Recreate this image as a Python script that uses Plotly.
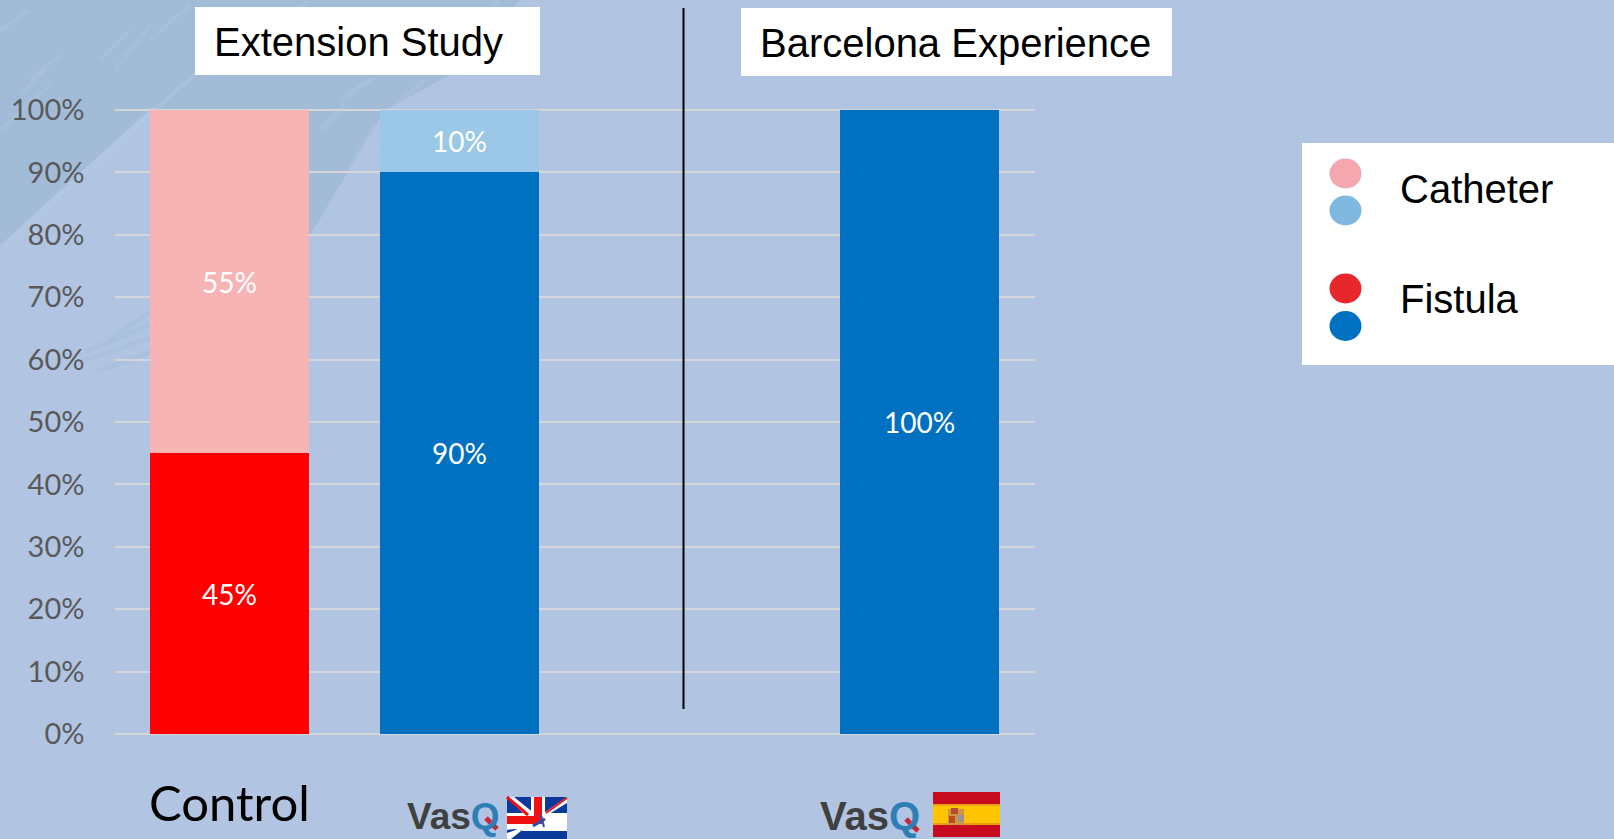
import plotly.graph_objects as go

W, H = 1614, 839
categories = ["Control", "VasQ UK", "gap", "VasQ Spain"]
fistula = [45, 90, None, 100]
catheter = [55, 10, None, None]
fistula_colors = ["#FF0000", "#0070C0", "#0070C0", "#0070C0"]
catheter_colors = ["#F7B4B5", "#9AC8E6", "#9AC8E6", "#9AC8E6"]
y_ticks = list(range(0, 101, 10))
y_labels = [f"{v}%" for v in y_ticks]

BG = "#B1C5E2"
TEX = "#A2BCD8"
STREAK = "#B2CAE2"
GRID = "#D4D6DA"

def px(x): return x / W
def py(y): return 1 - y / H

def rect(x0, y0, x1, y1, color, layer="below"):
    return dict(type="rect", xref="paper", yref="paper", x0=px(x0), x1=px(x1), y0=py(y0), y1=py(y1),
                fillcolor=color, line_width=0, layer=layer)

def poly(points, color, opacity=1.0, layer="below"):
    d = "M " + " L ".join(f"{px(a):.5f},{py(b):.5f}" for a, b in points) + " Z"
    return dict(type="path", xref="paper", yref="paper", path=d, fillcolor=color,
                line_width=0, layer=layer, opacity=opacity)

def seg(x0, y0, x1, y1, color, width=2, opacity=1.0, layer="below"):
    return dict(type="line", xref="paper", yref="paper", x0=px(x0), x1=px(x1), y0=py(y0), y1=py(y1),
                line=dict(color=color, width=width), opacity=opacity, layer=layer)

def dot(cx, cy, color):
    return dict(type="circle", xref="paper", yref="paper", x0=px(cx - 16), x1=px(cx + 16),
                y0=py(cy - 15), y1=py(cy + 15), fillcolor=color, line_width=0, layer="above")

def label(x, y, text, size, color="#000000", family="Liberation Sans", anchor="left"):
    return dict(xref="paper", yref="paper", x=px(x), y=py(y), text=text, showarrow=False,
                xanchor=anchor, yanchor="middle", font=dict(family=family, size=size, color=color))

streaks = [
    (0, 30, 30, 10), (20, 95, 45, 70), (0, 130, 50, 85), (30, 80, 60, 55), (100, 60, 130, 30),
    (115, 70, 150, 25), (150, 40, 190, 5), (320, 130, 345, 105), (345, 175, 375, 125),
    (320, 225, 385, 135), (340, 100, 370, 80), (395, 105, 425, 80), (350, 90, 375, 78),
    (300, 6, 310, 0), (490, 6, 500, 0),
]
wisps = [(85, 352, 150, 325), (80, 362, 150, 338), (95, 372, 150, 352), (110, 340, 150, 312)]

shapes = [
    poly([(0, 0), (520, 0), (450, 75), (385, 110), (310, 235), (155, 235), (155, 105), (0, 245)], TEX),
    *[seg(*s, STREAK, 4, 0.3) for s in streaks],
    seg(0, 250, 155, 110, STREAK, 4, 0.5),
    seg(155, 110, 200, 70, STREAK, 4, 0.5),
    *[seg(*s, TEX, 5, 0.4) for s in wisps],
    # white boxes
    rect(195, 7, 540, 75, "#FFFFFF"),
    rect(741, 8, 1172, 76, "#FFFFFF"),
    rect(1302, 143, 1614, 365, "#FFFFFF"),
    # divider
    seg(683.5, 8, 683.5, 709, "#000000", 2, layer="above"),
    # legend dots
    dot(1345.5, 173.5, "#F4A7AF"),
    dot(1345.5, 210.5, "#7FB9E1"),
    dot(1345.5, 288.5, "#E8272A"),
    dot(1345.5, 326, "#0070C0"),
    # Q tails
    seg(486, 818, 497, 829, "#C8283C", 5, layer="above"),
    seg(906, 819, 918, 831, "#C8283C", 5, layer="above"),
    # UK flag
    rect(507, 797, 567, 839, "#FFFFFF", "above"),
    rect(507, 797, 567, 813, "#0B3A9A", "above"),
    poly([(507, 797), (514, 797), (535, 814), (526, 816)], "#FFFFFF", layer="above"),
    seg(507, 797, 528, 815, "#F01010", 3, layer="above"),
    poly([(567, 797), (567, 803), (549, 814), (544, 813)], "#FFFFFF", layer="above"),
    seg(567, 798, 546, 813, "#F01010", 2, layer="above"),
    rect(531, 797, 545, 816, "#FFFFFF", "above"),
    rect(534, 797, 542, 824, "#F01010", "above"),
    rect(507, 816, 542, 824, "#F01010", "above"),
    seg(533, 826, 545, 819, "#2B4FA8", 3, layer="above"),
    seg(541, 815, 544, 827, "#2B4FA8", 2, layer="above"),
    poly([(507, 839), (507, 830), (515, 829), (523, 831), (567, 831), (567, 839)], "#0B3A9A", layer="above"),
    poly([(507, 833), (518, 829), (521, 831), (511, 839), (507, 839)], "#FFFFFF", layer="above"),
    # Spanish flag
    rect(933, 792, 1000, 837, "#C60B1E", "above"),
    rect(933, 804, 1000, 825, "#E8A010", "above"),
    rect(933, 806, 1000, 823, "#FFC400", "above"),
    rect(948, 809, 964, 825, "#C89848", "above"),
    rect(951, 808, 958, 814, "#B84A30", "above"),
    rect(958, 815, 964, 821, "#9A90A0", "above"),
    rect(949, 816, 955, 823, "#C04A20", "above"),
]

annotations = [
    label(212, 42, "Extension Study", 40),
    label(758, 43, "Barcelona Experience", 40),
    label(1398, 189, "Catheter", 40),
    label(1398, 299, "Fistula", 40),
    label(229.5, 802, "Control", 49, "#000000", "Lato", "center"),
    label(405, 816, '<b>Vas<span style="color:#2E7FB5">Q</span></b>', 37, "#404040"),
    label(818, 816, '<b>Vas<span style="color:#2E7FB5">Q</span></b>', 40, "#404040"),
]

text_font = dict(family="Lato", size=28, color="#FFFFFF")

# Axis is padded slightly past 0 and 100 so that their gridlines stay drawn.
unit = 6.24
pad_low, pad_high = 0.05, 0.25

fig = go.Figure()
fig.add_bar(name="Fistula", x=categories, y=fistula, marker=dict(color=fistula_colors, line_width=0),
            text=[f"{v}%" if v is not None else "" for v in fistula],
            textposition="inside", insidetextanchor="middle", textfont=text_font, textangle=0, width=0.695)
fig.add_bar(name="Catheter", x=categories, y=catheter, marker=dict(color=catheter_colors, line_width=0),
            text=[f"{v}%" if v is not None else "" for v in catheter],
            textposition="inside", insidetextanchor="middle", textfont=text_font, textangle=0, width=0.695)

fig.update_layout(
    width=W, height=H, autosize=False, barmode="stack", showlegend=False,
    margin=dict(l=0, r=0, t=0, b=0), paper_bgcolor=BG, plot_bgcolor="rgba(0,0,0,0)",
    shapes=shapes, annotations=annotations,
    xaxis=dict(domain=[px(114.5), px(1034.5)], type="category", categoryorder="array", categoryarray=categories,
               showticklabels=False, showgrid=False, zeroline=False, showline=False, ticks="", automargin=False),
    yaxis=dict(domain=[py(734 + pad_low * unit), py(110 - pad_high * unit)], range=[-pad_low, 100 + pad_high],
               tickvals=y_ticks, ticktext=y_labels,
               showgrid=True, gridcolor=GRID, gridwidth=2, zeroline=True, zerolinecolor=GRID, zerolinewidth=2,
               showline=False, automargin=False,
               tickfont=dict(family="Lato", size=29, color="#595959"), ticks="", ticklabelstandoff=29),
)

fig.write_html("out.html", post_script="document.body.style.margin='0';document.body.style.overflow='hidden';",
               config=dict(displayModeBar=False))
